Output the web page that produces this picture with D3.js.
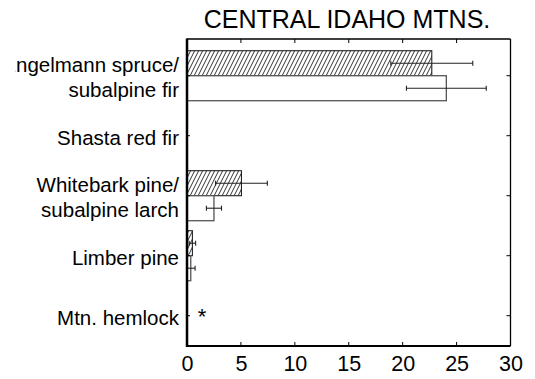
<!DOCTYPE html>
<html>
<head>
<meta charset="utf-8">
<script src="https://cdn.jsdelivr.net/npm/d3@7"></script>
<style>
  html, body { margin: 0; padding: 0; background: #fff; }
  svg { display: block; font-family: "Liberation Sans", Arial, Helvetica, sans-serif; }
</style>
</head>
<body>
<svg id="chart" width="535" height="379"></svg>
<script>
// ---- data ----
const title = "CENTRAL IDAHO MTNS.";
const categories = [
  ["Engelmann spruce/", "subalpine fir"],
  ["Shasta red fir"],
  ["Whitebark pine/", "subalpine larch"],
  ["Limber pine"],
  ["Mtn. hemlock"]
];
const hatchedValues = [22.7, 0, 5.05, 0.5, 0];
const hatchedErrors = [3.8, 0, 2.4, 0.3, 0];
const openValues    = [24.05, 0, 2.5, 0.35, 0];
const openErrors    = [3.7, 0, 0.7, 0.4, 0];
const missingMarks  = ["", "", "", "", "*"];
const xTicks = [0, 5, 10, 15, 20, 25, 30];

(function () {
// ---- layout ----
const svg = d3.select("#chart");
const pL = 187, pR = 510.5, pT = 39, pB = 346;
const x = d3.scaleLinear().domain([0, 30]).range([pL, pR]);
const y = d3.scaleLinear().domain([-0.612, 4.505]).range([pT, pB]);
const barH = y(0.4167) - y(0);

// hatch pattern
const defs = svg.append("defs");
const pat = defs.append("pattern")
  .attr("id", "hatch").attr("patternUnits", "userSpaceOnUse")
  .attr("width", 4).attr("height", 8);
pat.append("rect").attr("width", 4).attr("height", 8).attr("fill", "#fff");
pat.append("path")
  .attr("d", "M-2,4 L2,-4 M0,8 L4,0 M2,12 L6,4")
  .attr("stroke", "#000").attr("stroke-width", 0.8);

defs.append("clipPath").attr("id", "labelclip")
  .append("rect").attr("x", 15).attr("y", 0).attr("width", 172).attr("height", 379);

// title
svg.append("text")
  .attr("x", 347).attr("y", 28)
  .attr("text-anchor", "middle")
  .attr("font-size", 25)
  .attr("fill", "#000")
  .text(title);

const idx = d3.range(categories.length);

// bars
const g = svg.append("g");
g.selectAll("rect.h").data(idx).join("rect")
  .attr("class", "h")
  .attr("x", x(0))
  .attr("y", i => y(i) - barH)
  .attr("width", i => x(hatchedValues[i]) - x(0))
  .attr("height", barH)
  .attr("fill", "url(#hatch)")
  .attr("stroke", "#222").attr("stroke-width", 1.1)
  .attr("display", i => hatchedValues[i] > 0 ? null : "none");

g.selectAll("rect.o").data(idx).join("rect")
  .attr("class", "o")
  .attr("x", x(0))
  .attr("y", i => y(i))
  .attr("width", i => x(openValues[i]) - x(0))
  .attr("height", barH)
  .attr("fill", "#fff")
  .attr("stroke", "#555").attr("stroke-width", 1.3)
  .attr("display", i => openValues[i] > 0 ? null : "none");

// error bars
function errBars(vals, errs, dy, cls) {
  const eg = svg.append("g").attr("stroke", "#222").attr("stroke-width", 1.1);
  const data = idx.filter(i => errs[i] > 0);
  eg.selectAll("line.m" + cls).data(data).join("line")
    .attr("x1", i => x(Math.max(0, vals[i] - errs[i])))
    .attr("x2", i => x(vals[i] + errs[i]))
    .attr("y1", i => y(i) + dy).attr("y2", i => y(i) + dy);
  eg.selectAll("line.r" + cls).data(data).join("line")
    .attr("x1", i => x(vals[i] + errs[i])).attr("x2", i => x(vals[i] + errs[i]))
    .attr("y1", i => y(i) + dy - 2.5).attr("y2", i => y(i) + dy + 2.5);
  eg.selectAll("line.l" + cls).data(data.filter(i => vals[i] - errs[i] > 0)).join("line")
    .attr("x1", i => x(vals[i] - errs[i])).attr("x2", i => x(vals[i] - errs[i]))
    .attr("y1", i => y(i) + dy - 2.5).attr("y2", i => y(i) + dy + 2.5);
}
errBars(hatchedValues, hatchedErrors, -barH / 2, "h");
errBars(openValues, openErrors, barH / 2, "o");

// missing marks
svg.selectAll("text.miss").data(idx.filter(i => missingMarks[i])).join("text")
  .attr("class", "miss")
  .attr("x", x(1.4)).attr("y", i => y(i) + 8)
  .attr("text-anchor", "middle")
  .attr("font-size", 22)
  .text(i => missingMarks[i]);

// axes
const fmt = d3.format("d");
const xBottom = d3.axisBottom(x).tickValues(xTicks).tickSize(0).tickPadding(10).tickFormat(fmt);
const ax = svg.append("g").attr("transform", `translate(0,${pB})`).call(xBottom);
ax.select(".domain").remove();
ax.selectAll("text").attr("font-size", 21.5).attr("fill", "#000")
  .attr("font-family", "Liberation Sans, Arial, sans-serif").attr("dy", "0.72em");

// inner ticks
const tk = svg.append("g").attr("stroke", "#000").attr("stroke-width", 1);
tk.selectAll("line.tb").data(xTicks.slice(1, -1)).join("line")
  .attr("x1", d => x(d)).attr("x2", d => x(d)).attr("y1", pB).attr("y2", pB - 4);
tk.selectAll("line.tt").data(xTicks.slice(1, -1)).join("line")
  .attr("x1", d => x(d)).attr("x2", d => x(d)).attr("y1", pT).attr("y2", pT + 4);
tk.selectAll("line.tr").data(idx).join("line")
  .attr("x1", pR).attr("x2", pR - 4).attr("y1", i => y(i)).attr("y2", i => y(i));
tk.selectAll("line.tl").data(idx).join("line")
  .attr("x1", pL).attr("x2", pL + 3).attr("y1", i => y(i)).attr("y2", i => y(i));

// frame
svg.append("line").attr("x1", pL).attr("x2", pR).attr("y1", pT).attr("y2", pT)
  .attr("stroke", "#000").attr("stroke-width", 1.3);
svg.append("line").attr("x1", pR).attr("x2", pR).attr("y1", pT).attr("y2", pB)
  .attr("stroke", "#000").attr("stroke-width", 1.3);
svg.append("line").attr("x1", pL).attr("x2", pR).attr("y1", pB).attr("y2", pB)
  .attr("stroke", "#000").attr("stroke-width", 2);
svg.append("line").attr("x1", pL).attr("x2", pL).attr("y1", pT - 0.6).attr("y2", pB + 1)
  .attr("stroke", "#000").attr("stroke-width", 2.5);

// category labels
const lg = svg.append("g").attr("clip-path", "url(#labelclip)");
idx.forEach(i => {
  const lines = categories[i];
  const lh = 25;
  const y0 = y(i) + 2 - (lines.length - 1) * lh / 2;
  const t = lg.append("text")
    .attr("text-anchor", "end")
    .attr("font-size", 20.5)
    .attr("fill", "#000");
  lines.forEach((ln, k) => {
    t.append("tspan").attr("x", 179).attr("y", y0 + k * lh).attr("dy", "0.35em").text(ln);
  });
});
})();
</script>
</body>
</html>
